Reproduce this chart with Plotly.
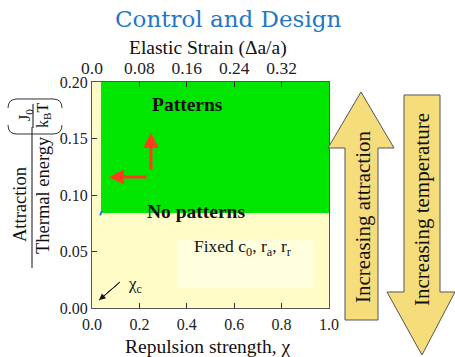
import plotly.graph_objects as go

# ---- data -------------------------------------------------------------
x_ticks = [0.0, 0.2, 0.4, 0.6, 0.8, 1.0]
x_tick_text = ["0.0", "0.2", "0.4", "0.6", "0.8", "1.0"]
y_ticks = [0.00, 0.05, 0.10, 0.15, 0.20]
y_tick_text = ["0.00", "0.05", "0.10", "0.15", "0.20"]
strain_ticks = [0.0, 0.08, 0.16, 0.24, 0.32, 0.40]
strain_tick_text = ["0.0", "0.08", "0.16", "0.24", "0.32", ""]

chi_c = 0.038          # critical repulsion strength
j_threshold = 0.084    # attraction threshold for patterning

# red direction arrows (tail -> head)
up_arrow_x = [0.249, 0.249]
up_arrow_y = [0.122, 0.155]
left_arrow_x = [0.232, 0.072]
left_arrow_y = [0.116, 0.116]
# chi_c pointer (tail -> head)
chi_arrow_x = [0.118, 0.030]
chi_arrow_y = [0.023, 0.007]
# small blue corner mark
blue_x = [0.042, 0.034]
blue_y = [0.086, 0.082]
# lighter label box
box_x = [0.359, 0.932]
box_y = [0.018, 0.060]

# ---- layout geometry (pixels) ----------------------------------------
W, H = 455, 357
L, R, T, B = 92, 329, 82, 308


def px(x):
    return (x - L) / (R - L)


def py(y):
    return (B - y) / (B - T)


serif = "'Times New Roman', 'Liberation Serif', Times, serif"
cream = "#FFFCC8"
green = "#00E600"

fig = go.Figure()

# patterned region
fig.add_trace(go.Scatter(
    x=[chi_c, 1.0, 1.0, chi_c, chi_c],
    y=[j_threshold, j_threshold, 0.2, 0.2, j_threshold],
    fill="toself", fillcolor=green, mode="lines",
    line=dict(width=0, color=green), hoverinfo="skip", showlegend=False,
))
fig.add_trace(go.Scatter(
    x=blue_x, y=blue_y, mode="lines",
    line=dict(width=2, color="#2F6FE8"), hoverinfo="skip", showlegend=False,
))
# shaft of the chi_c pointer
fig.add_trace(go.Scatter(
    x=chi_arrow_x, y=chi_arrow_y, mode="lines",
    line=dict(width=1, color="#111111"), hoverinfo="skip", showlegend=False,
))
# invisible trace on the strain axis
fig.add_trace(go.Scatter(x=[0, 0.4], y=[0, 0], xaxis="x2", mode="markers",
                         marker=dict(opacity=0), hoverinfo="skip",
                         showlegend=False))

shapes = [
    dict(type="rect", xref="x", yref="y", x0=box_x[0], x1=box_x[1],
         y0=box_y[0], y1=box_y[1], fillcolor="#FFFFDE", line=dict(width=0),
         layer="below"),
]

# block arrows on the right
arrow_fill = "#F6DD7C"
arrow_line = dict(color="#555555", width=1)


def path(points):
    s = "M " + " L ".join(f"{px(a):.4f},{py(b):.4f}" for a, b in points)
    return s + " Z"


up_pts = [(345, 320), (345, 148), (328, 148), (361, 92), (394, 148),
          (378, 148), (378, 320)]
down_pts = [(404, 95), (440, 95), (440, 292), (455, 292), (422, 355),
            (387, 292), (404, 292)]
shapes.append(dict(type="path", xref="paper", yref="paper", path=path(up_pts),
                   fillcolor=arrow_fill, line=arrow_line))
shapes.append(dict(type="path", xref="paper", yref="paper",
                   path=path(down_pts), fillcolor=arrow_fill, line=arrow_line))

# fraction bar of the y title
shapes.append(dict(type="line", xref="paper", yref="paper",
                   x0=px(32), x1=px(32), y0=py(127), y1=py(268),
                   line=dict(color="#111111", width=1)))
# J0/kBT fraction bar
shapes.append(dict(type="line", xref="paper", yref="paper",
                   x0=px(33), x1=px(33), y0=py(104), y1=py(128),
                   line=dict(color="#111111", width=1)))


def q(a, b):
    return f"{px(a):.4f},{py(b):.4f}"


bracket_top = (f"M {q(8,108)} Q {q(8,99)} {q(17,99)} L {q(53,99)} "
               f"Q {q(62,99)} {q(62,108)}")
bracket_bot = (f"M {q(8,125)} Q {q(8,134)} {q(17,134)} L {q(53,134)} "
               f"Q {q(62,134)} {q(62,125)}")
for p in (bracket_top, bracket_bot):
    shapes.append(dict(type="path", xref="paper", yref="paper", path=p,
                       line=dict(color="#333333", width=1)))

annotations = []


def note(x, y, text, size, ref="paper", angle=0, color="#111111",
         family=serif):
    annotations.append(dict(
        x=x, y=y, xref=ref if ref != "data" else "x",
        yref=ref if ref != "data" else "y", text=text, showarrow=False,
        textangle=angle, font=dict(family=family, size=size, color=color),
        xanchor="center", yanchor="middle"))


note(px(228), py(19), "Control and Design", 23, color="#1F78C4",
     family="DejaVu Serif")
note(px(208), py(48), "Elastic Strain (Δa/a)", 19.5)
note(px(208), py(346), "Repulsion strength, χ", 19.5)
note(px(20), py(205), "Attraction", 18.5, angle=-90)
note(px(43), py(195), "Thermal energy", 18.5, angle=-90)
note(px(25), py(115), "J<sub>0</sub>", 16, angle=-90)
note(px(43), py(116), "k<sub>B</sub>T", 16, angle=-90)
note(px(363), py(217), "Increasing attraction", 21, angle=-90)
note(px(422), py(210), "Increasing temperature", 21, angle=-90)

note(0.405, 0.1805, "<b>Patterns</b>", 19.5, ref="data")
note(0.439, 0.085, "<b>No patterns</b>", 19.5, ref="data")
note(0.637, 0.0535, "Fixed c<sub>0</sub>, r<sub>a</sub>, r<sub>r</sub>", 17.5,
     ref="data")
note(0.180, 0.0205, "χ<sub>c</sub>", 17, ref="data")


def arrow(xs, ys, color, width, head_size):
    annotations.append(dict(
        x=xs[1], y=ys[1], ax=xs[0], ay=ys[0], xref="x", yref="y",
        axref="x", ayref="y", showarrow=True, arrowhead=2,
        arrowsize=head_size, arrowwidth=width, arrowcolor=color, text="",
        font=dict(size=1), borderpad=0, standoff=0, startstandoff=0))


red = "#FF3A1F"
arrow(up_arrow_x, up_arrow_y, red, 3, 1)
arrow(left_arrow_x, left_arrow_y, red, 3, 1)
arrow(chi_arrow_x, chi_arrow_y, "#111111", 1, 1.3)

axis_common = dict(showgrid=False, zeroline=False, ticks="inside", ticklen=5,
                   tickcolor="#333333", showline=True, linecolor="#555555",
                   linewidth=1)


def tfont(size):
    return dict(family=serif, size=size, color="#222222")


fig.update_layout(
    width=W, height=H, autosize=False,
    margin=dict(l=L, r=W - R, t=T, b=H - B, pad=0),
    paper_bgcolor="white", plot_bgcolor=cream,
    showlegend=False,
    xaxis=dict(range=[0, 1], tickvals=x_ticks, ticktext=x_tick_text,
               mirror=True, tickfont=tfont(16), ticklabelstandoff=2,
               **axis_common),
    xaxis2=dict(range=[0, 0.4], tickvals=strain_ticks,
                ticktext=strain_tick_text, overlaying="x", side="top",
                tickfont=tfont(17.5), **axis_common),
    yaxis=dict(range=[0, 0.2], tickvals=y_ticks, ticktext=y_tick_text,
               mirror=True, tickfont=tfont(16), **axis_common),
    shapes=shapes, annotations=annotations,
)

fig.write_html("out.html")
